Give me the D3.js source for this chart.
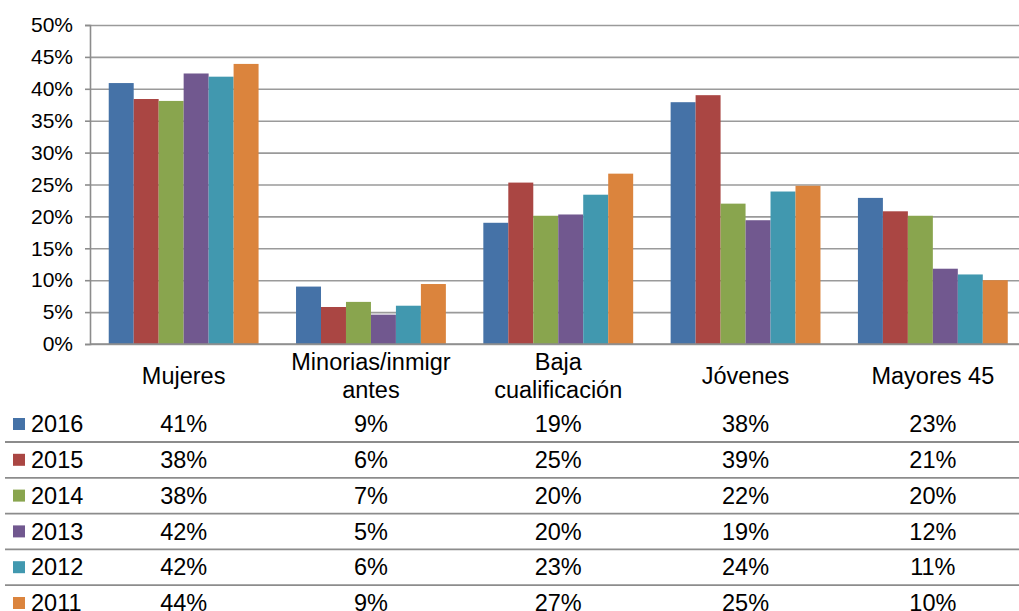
<!DOCTYPE html>
<html>
<head>
<meta charset="utf-8">
<script src="https://cdn.jsdelivr.net/npm/d3@7"></script>
<style>
  body { margin: 0; background: #fff; }
  text { font-family: "Liberation Sans", Arial, sans-serif; fill: #000; }
</style>
</head>
<body>
<svg id="chart" width="1019" height="611"></svg>
<script>
//-------------------------------------------------
// Data
//-------------------------------------------------
var categories = ["Mujeres", "Minorias/inmigrantes", "Baja cualificación", "Jóvenes", "Mayores 45"];
var categoryLines = [["Mujeres"], ["Minorias/inmigr", "antes"], ["Baja", "cualificación"], ["Jóvenes"], ["Mayores 45"]];
var years = ["2016", "2015", "2014", "2013", "2012", "2011"];
var colors = ["#4572A7", "#AA4643", "#89A54E", "#71588F", "#4198AF", "#DB843D"];

// one array per year, in category order
var v2016 = [0.409, 0.090, 0.190, 0.379, 0.229];
var v2015 = [0.384, 0.058, 0.253, 0.390, 0.208];
var v2014 = [0.381, 0.066, 0.201, 0.220, 0.201];
var v2013 = [0.424, 0.046, 0.203, 0.194, 0.118];
var v2012 = [0.419, 0.060, 0.234, 0.239, 0.109];
var v2011 = [0.439, 0.094, 0.267, 0.248, 0.100];
var series = [v2016, v2015, v2014, v2013, v2012, v2011];

var yTicks = [0, 0.05, 0.10, 0.15, 0.20, 0.25, 0.30, 0.35, 0.40, 0.45, 0.50];
//-------------------------------------------------

var svg = d3.select("#chart");
var plotLeft = 90, plotTop = 25, plotBottom = 344;
var step = 187.3;
var plotRight = plotLeft + categories.length * step;

var x = d3.scaleBand().domain(categories).range([plotLeft, plotRight]).paddingInner(0.2).paddingOuter(0.1);
var xYear = d3.scaleBand().domain(years).range([0, x.bandwidth()]);
var y = d3.scaleLinear().domain([0, 0.5]).range([plotBottom, plotTop]);
var pct = d3.format(".0%");

// gridlines
svg.append("g")
  .attr("transform", "translate(" + plotLeft + ",0)")
  .call(d3.axisLeft(y).tickValues(yTicks).tickSize(-(plotRight - plotLeft)).tickFormat(""))
  .call(function(g) {
    g.select(".domain").remove();
    g.selectAll("line").attr("stroke", "#9a9a9a").attr("stroke-width", 1.6);
  });

// bars
var groups = svg.append("g").selectAll("g")
  .data(categories)
  .enter().append("g")
  .attr("transform", function(d) { return "translate(" + x(d) + ",0)"; });

groups.selectAll("rect")
  .data(function(d, i) { return years.map(function(yr, j) { return {year: yr, idx: j, value: series[j][i]}; }); })
  .enter().append("rect")
  .attr("x", function(d) { return xYear(d.year); })
  .attr("width", xYear.bandwidth())
  .attr("y", function(d) { return y(d.value); })
  .attr("height", function(d) { return y(0) - y(d.value); })
  .attr("fill", function(d) { return colors[d.idx]; });

// y axis
svg.append("g")
  .attr("transform", "translate(" + plotLeft + ",0)")
  .call(d3.axisLeft(y).tickValues(yTicks).tickSize(5).tickPadding(12).tickFormat(pct))
  .call(function(g) {
    g.select(".domain").attr("stroke", "#8c8c8c").attr("stroke-width", 1.6);
    g.selectAll("line").attr("stroke", "#8c8c8c").attr("stroke-width", 1.6);
    g.selectAll("text").attr("font-size", 21).attr("font-family", "Liberation Sans, Arial, sans-serif").attr("fill", "#000");
  });

// x baseline
svg.append("line")
  .attr("x1", plotLeft).attr("x2", plotRight)
  .attr("y1", y(0)).attr("y2", y(0))
  .attr("stroke", "#8c8c8c").attr("stroke-width", 1.6);

// category labels
var catLabels = svg.append("g").selectAll("text")
  .data(categories)
  .enter().append("text")
  .attr("text-anchor", "middle")
  .attr("font-size", 23.5)
  .attr("x", function(d) { return x(d) + x.bandwidth() / 2; });

catLabels.each(function(d, i) {
  var lines = categoryLines[i];
  var t = d3.select(this);
  var y0 = lines.length == 1 ? 376 : 362;
  lines.forEach(function(l, k) {
    t.append("tspan")
      .attr("x", x(d) + x.bandwidth() / 2)
      .attr("y", y0 + k * 28)
      .attr("dy", "0.35em")
      .text(l);
  });
});

// data table
var rowY = d3.scaleLinear().domain([0, 1]).range([424, 459.8]);
var table = svg.append("g");

years.forEach(function(yr, j) {
  var cy = rowY(j);
  table.append("rect")
    .attr("x", 13).attr("y", cy - 6)
    .attr("width", 12).attr("height", 12)
    .attr("fill", colors[j]);
  table.append("text")
    .attr("x", 31).attr("y", cy).attr("dy", "0.35em")
    .attr("font-size", 23.5)
    .text(yr);
  table.selectAll(null)
    .data(categories)
    .enter().append("text")
    .attr("x", function(d) { return x(d) + x.bandwidth() / 2; })
    .attr("y", cy).attr("dy", "0.35em")
    .attr("text-anchor", "middle")
    .attr("font-size", 23.5)
    .text(function(d, i) { return pct(series[j][i]); });
  if (j < years.length - 1) {
    table.append("line")
      .attr("x1", 5).attr("x2", 1019)
      .attr("y1", cy + 18).attr("y2", cy + 18)
      .attr("stroke", "#8c8c8c").attr("stroke-width", 1.8);
  }
});
</script>
</body>
</html>
